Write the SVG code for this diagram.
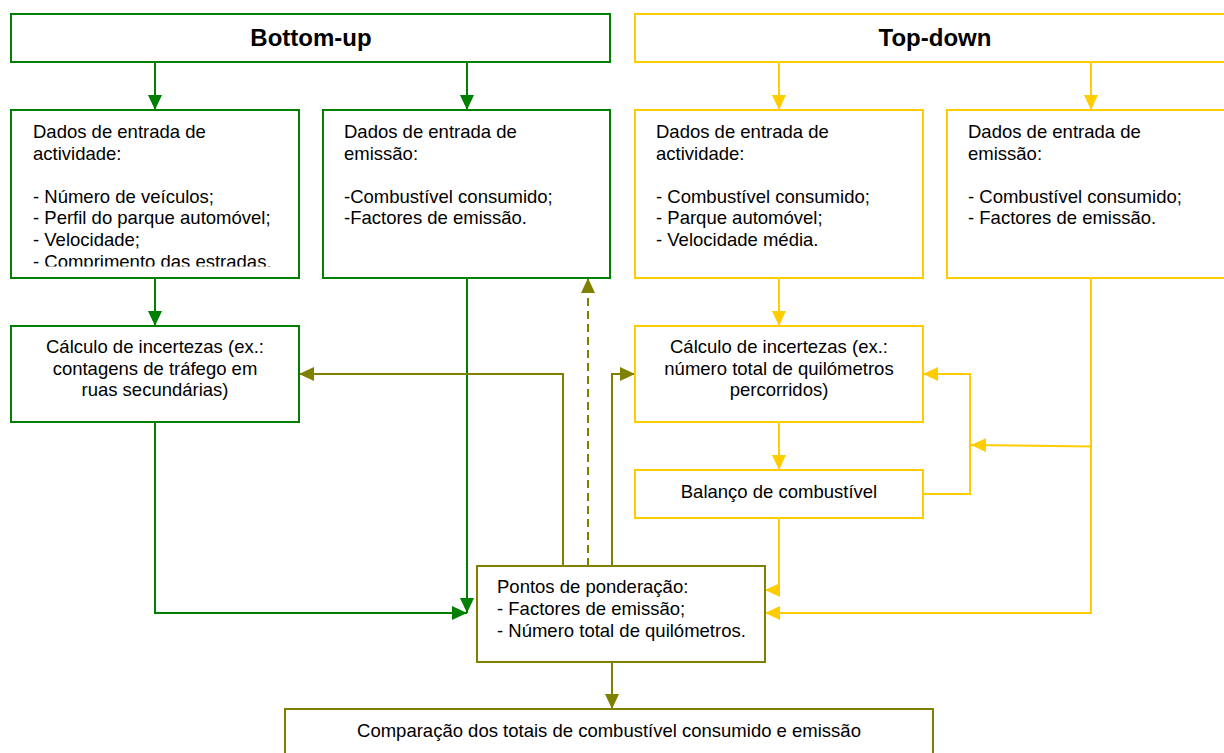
<svg xmlns="http://www.w3.org/2000/svg" width="1224" height="753" viewBox="0 0 1224 753">
<style>
  .bg { fill: #ffffff; }
  .g { fill: #ffffff; stroke: #008000; stroke-width: 2; }
  .y { fill: #ffffff; stroke: #FFCC00; stroke-width: 2; }
  .o { fill: #ffffff; stroke: #808000; stroke-width: 2; }
  .t { font-family: "Liberation Sans", Arial, sans-serif; font-size: 18.5px; fill: #000000; }
  .h { font-family: "Liberation Sans", Arial, sans-serif; font-size: 24px; font-weight: bold; fill: #000000; }
  .c { text-anchor: middle; }
  .lg { fill: none; stroke: #008000; stroke-width: 2; }
  .ly { fill: none; stroke: #FFCC00; stroke-width: 2; }
  .lo { fill: none; stroke: #808000; stroke-width: 2; }
  .dash { stroke-dasharray: 8 5; }
</style>
<defs>
  <marker id="ag" viewBox="0 0 15 14" refX="15" refY="7" markerWidth="15" markerHeight="14" markerUnits="userSpaceOnUse" orient="auto">
    <path d="M0,0 L15,7 L0,14 z" fill="#008000"/>
  </marker>
  <marker id="ay" viewBox="0 0 15 14" refX="15" refY="7" markerWidth="15" markerHeight="14" markerUnits="userSpaceOnUse" orient="auto">
    <path d="M0,0 L15,7 L0,14 z" fill="#FFCC00"/>
  </marker>
  <marker id="ao" viewBox="0 0 15 14" refX="15" refY="7" markerWidth="15" markerHeight="14" markerUnits="userSpaceOnUse" orient="auto">
    <path d="M0,0 L15,7 L0,14 z" fill="#808000"/>
  </marker>
  <clipPath id="clipA1">
    <rect x="11" y="110" width="288" height="156.5"/>
  </clipPath>
</defs>
<rect class="bg" x="0" y="0" width="1224" height="753"/>

<g id="connectors">
  <path class="lg" d="M155,62 V110" marker-end="url(#ag)"/>
  <path class="lg" d="M467,62 V110" marker-end="url(#ag)"/>
  <path class="lg" d="M155,278 V326" marker-end="url(#ag)"/>
  <path class="lg" d="M467,278 V613" marker-end="url(#ag)"/>
  <path class="lg" d="M155,422 V613 H467" marker-end="url(#ag)"/>
  <path class="lo" d="M563,566 V374 H299" marker-end="url(#ao)"/>
  <path class="lo dash" d="M588,566 V278" marker-end="url(#ao)"/>
  <path class="lo" d="M612,566 V374 H635" marker-end="url(#ao)"/>
  <path class="lo" d="M612,662 V709" marker-end="url(#ao)"/>
  <path class="ly" d="M779,62 V110" marker-end="url(#ay)"/>
  <path class="ly" d="M1091,62 V110" marker-end="url(#ay)"/>
  <path class="ly" d="M779,278 V326" marker-end="url(#ay)"/>
  <path class="ly" d="M779,422 V470" marker-end="url(#ay)"/>
  <path class="ly" d="M923,494 H970 V374 H923" marker-end="url(#ay)"/>
  <path class="ly" d="M1091,278 V613 H765" marker-end="url(#ay)"/>
  <path class="ly" d="M1091,446.5 L971,445" marker-end="url(#ay)"/>
  <path class="ly" d="M779,518 V590 H765" marker-end="url(#ay)"/>
</g>

<g id="bottom-up">
  <rect class="g" x="11" y="14" width="599" height="48"/>
  <text class="h c" x="311" y="46">Bottom-up</text>
</g>

<g id="top-down">
  <rect class="y" x="635" y="14" width="610" height="48"/>
  <text class="h c" x="935" y="46">Top-down</text>
</g>

<g id="bu-activity">
  <rect class="g" x="11" y="110" width="288" height="168"/>
  <g clip-path="url(#clipA1)">
    <text class="t" x="33" y="138">Dados de entrada de</text>
    <text class="t" x="33" y="159.5">actividade:</text>
    <text class="t" x="33" y="202.5">- Número de veículos;</text>
    <text class="t" x="33" y="224">- Perfil do parque automóvel;</text>
    <text class="t" x="33" y="245.5">- Velocidade;</text>
    <text class="t" x="33" y="267.5">- Comprimento das estradas.</text>
  </g>
</g>

<g id="bu-emission">
  <rect class="g" x="323" y="110" width="287" height="168"/>
  <text class="t" x="344" y="138">Dados de entrada de</text>
  <text class="t" x="344" y="159.5">emissão:</text>
  <text class="t" x="344" y="202.5">-Combustível consumido;</text>
  <text class="t" x="344" y="224">-Factores de emissão.</text>
</g>

<g id="td-activity">
  <rect class="y" x="635" y="110" width="288" height="168"/>
  <text class="t" x="656" y="138">Dados de entrada de</text>
  <text class="t" x="656" y="159.5">actividade:</text>
  <text class="t" x="656" y="202.5">- Combustível consumido;</text>
  <text class="t" x="656" y="224">- Parque automóvel;</text>
  <text class="t" x="656" y="245.5">- Velocidade média.</text>
</g>

<g id="td-emission">
  <rect class="y" x="947" y="110" width="300" height="168"/>
  <text class="t" x="968" y="138">Dados de entrada de</text>
  <text class="t" x="968" y="159.5">emissão:</text>
  <text class="t" x="968" y="202.5">- Combustível consumido;</text>
  <text class="t" x="968" y="224">- Factores de emissão.</text>
</g>

<g id="bu-uncertainty">
  <rect class="g" x="11" y="326" width="288" height="96"/>
  <text class="t c" x="155" y="353">Cálculo de incertezas (ex.:</text>
  <text class="t c" x="155" y="375">contagens de tráfego em</text>
  <text class="t c" x="155" y="396">ruas secundárias)</text>
</g>

<g id="td-uncertainty">
  <rect class="y" x="635" y="326" width="288" height="96"/>
  <text class="t c" x="779" y="353">Cálculo de incertezas (ex.:</text>
  <text class="t c" x="779" y="375">número total de quilómetros</text>
  <text class="t c" x="779" y="396">percorridos)</text>
</g>

<g id="fuel-balance">
  <rect class="y" x="635" y="470" width="288" height="48"/>
  <text class="t c" x="779" y="498">Balanço de combustível</text>
</g>

<g id="weighting">
  <rect class="o" x="477" y="566" width="288" height="96"/>
  <text class="t" x="497" y="593">Pontos de ponderação:</text>
  <text class="t" x="497" y="615">- Factores de emissão;</text>
  <text class="t" x="497" y="637">- Número total de quilómetros.</text>
</g>

<g id="comparison">
  <rect class="o" x="285" y="709" width="648" height="60"/>
  <text class="t c" x="609" y="737">Comparação dos totais de combustível consumido e emissão</text>
</g>
</svg>
